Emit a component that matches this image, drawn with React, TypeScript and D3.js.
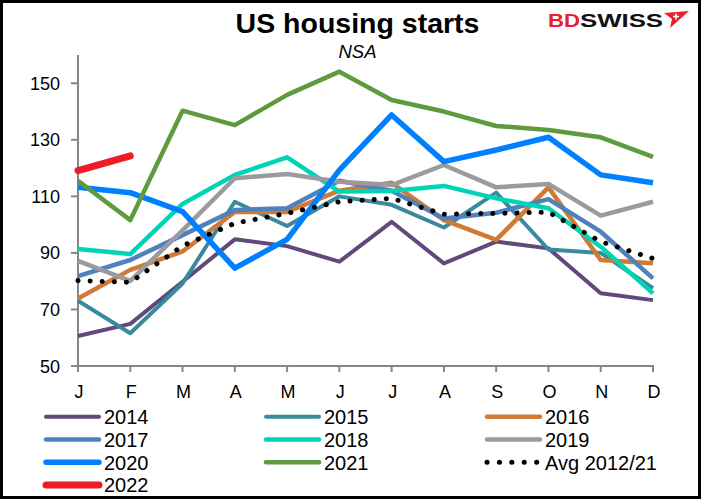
import React from "react";
import * as d3 from "d3";

const months = ["J", "F", "M", "A", "M", "J", "J", "A", "S", "O", "N", "D"];
const yTicks = [50, 70, 90, 110, 130, 150];

const y2014 = [60.6, 64.9, 79.8, 94.8, 92.4, 86.9, 101, 86.3, 94, 91.6, 75.7, 73.3];
const y2015 = [73.1, 61.6, 79.2, 108.1, 99.5, 110, 107, 99, 111.3, 91.2, 90, 77.5];
const y2016 = [73.9, 84, 90.5, 104.5, 104.5, 112, 114.8, 101.6, 94.6, 113.2, 87.5, 86.3];
const y2017 = [81.8, 87.5, 96.3, 105.2, 105.8, 115.5, 112, 102.2, 104.2, 109, 97.5, 81];
const y2018 = [91.4, 89.6, 107.3, 117.6, 123.8, 111.7, 111.9, 113.7, 109.3, 105.8, 92.2, 75.7];
const y2019 = [87.2, 80.1, 98, 116.4, 117.9, 115.2, 114, 121.1, 113.2, 114.4, 103.2, 108.1];
const y2020 = [113.2, 111.3, 104.6, 84.6, 94.8, 119.3, 138.8, 122.3, 126.4, 130.9, 117.6, 114.8];
const y2021 = [115.5, 101.6, 140.3, 135.2, 145.9, 154.1, 144.1, 140, 134.9, 133.5, 130.9, 124];
const y2022 = [119.1, 124.3];
const avg = [80.2, 79.6, 92.5, 100.5, 104, 108.1, 109.3, 103.7, 104, 104.4, 94, 88];

const seriesNames = ["2014", "2015", "2016", "2017", "2018", "2019", "2020", "2021", "Avg 2012/21", "2022"];
const seriesValues = [y2014, y2015, y2016, y2017, y2018, y2019, y2020, y2021, avg, y2022];
const seriesColors = ["#604A7B", "#3A8A9F", "#D07A36", "#4F81BD", "#00D4B6", "#9B9B9F", "#0080FF", "#5E9A3E", "#000000", "#EE1C25"];
const seriesWidths = [4, 4, 4.5, 4.5, 4.5, 4.5, 5.5, 4.5, 5, 7];

const legendOrder = ["2014", "2015", "2016", "2017", "2018", "2019", "2020", "2021", "Avg 2012/21", "2022"];

const FONT = "'Liberation Sans', Arial, sans-serif";

export default function App() {
  const W = 701;
  const H = 499;
  const x = d3.scalePoint<number>().domain(d3.range(12)).range([78, 653]);
  const y = d3.scaleLinear().domain([50, 160]).range([366, 55]);
  const line = d3
    .line<number>()
    .x((_, i) => x(i) as number)
    .y((d) => y(d));

  const legendCols = [44, 264, 485];
  const legendRows = [416.7, 439.5, 462.3, 485];

  return (
    <svg
      width={W}
      height={H}
      style={{ position: "fixed", left: 0, top: 0, background: "#fff" }}
      fontFamily={FONT}
    >
      <rect x={0} y={0} width={W} height={H} fill="#fff" />
      {/* title */}
      <text x={357.5} y={33} textAnchor="middle" fontSize={28.5} fontWeight="bold" fill="#000">
        US housing starts
      </text>
      <text x={357.5} y={58} textAnchor="middle" fontSize={18.5} fontStyle="italic" fill="#000">
        NSA
      </text>
      {/* logo */}
      <text x={548} y={27} fontSize={19} fontWeight={900} fill="#E8202A" textLength={32} lengthAdjust="spacingAndGlyphs">
        BD
      </text>
      <text x={580} y={27} fontSize={19} fontWeight={900} fill="#111" textLength={83} lengthAdjust="spacingAndGlyphs">
        SWISS
      </text>
      <polygon points="664,13 689,11 670,28 672,19" fill="#E8202A" />
      <path d="M676,13.5 v6 M673,16.5 h6" stroke="#fff" strokeWidth={1.6} />

      {/* axes */}
      <line x1={78} x2={78} y1={55} y2={366} stroke="#868686" strokeWidth={2} />
      <line x1={77} x2={654} y1={366} y2={366} stroke="#868686" strokeWidth={2} />
      {yTicks.map((t) => (
        <g key={"yt" + t}>
          <line x1={71} x2={78} y1={y(t)} y2={y(t)} stroke="#868686" strokeWidth={2} />
          <text x={60} y={y(t) + 6.5} textAnchor="end" fontSize={18} fill="#000">
            {t}
          </text>
        </g>
      ))}
      {months.map((m, i) => (
        <g key={"xt" + i}>
          <line x1={x(i)} x2={x(i)} y1={366} y2={372} stroke="#868686" strokeWidth={2} />
          <text x={(x(i) as number) + 1} y={398} textAnchor="middle" fontSize={18} fill="#000">
            {m}
          </text>
        </g>
      ))}

      {/* series */}
      {seriesValues.map((vals, si) => {
        const isAvg = seriesNames[si].startsWith("Avg");
        return (
          <path
            key={"s" + si}
            d={line(vals) || ""}
            fill="none"
            stroke={seriesColors[si]}
            strokeWidth={seriesWidths[si]}
            strokeLinejoin="round"
            strokeLinecap={isAvg || seriesNames[si] === "2022" ? "round" : "butt"}
            strokeDasharray={isAvg ? "0.1 12" : undefined}
          />
        );
      })}

      {/* legend */}
      {legendOrder.map((name, li) => {
        const si = seriesNames.indexOf(name);
        const cx = legendCols[li % 3];
        const cy = legendRows[Math.floor(li / 3)];
        const isAvg = name.startsWith("Avg");
        return (
          <g key={"lg" + name}>
            <line
              x1={cx + 2}
              x2={cx + 55}
              y1={cy}
              y2={cy}
              stroke={seriesColors[si]}
              strokeWidth={isAvg ? 5 : seriesWidths[si]}
              strokeLinecap="round"
              strokeDasharray={isAvg ? "0.1 12.3" : undefined}
            />
            <text x={cx + 60} y={cy + 7.2} fontSize={20} fill="#000">
              {name}
            </text>
          </g>
        );
      })}

      {/* frame */}
      <rect x={1.5} y={1.5} width={W - 3} height={H - 3} fill="none" stroke="#000" strokeWidth={3} />
    </svg>
  );
}
